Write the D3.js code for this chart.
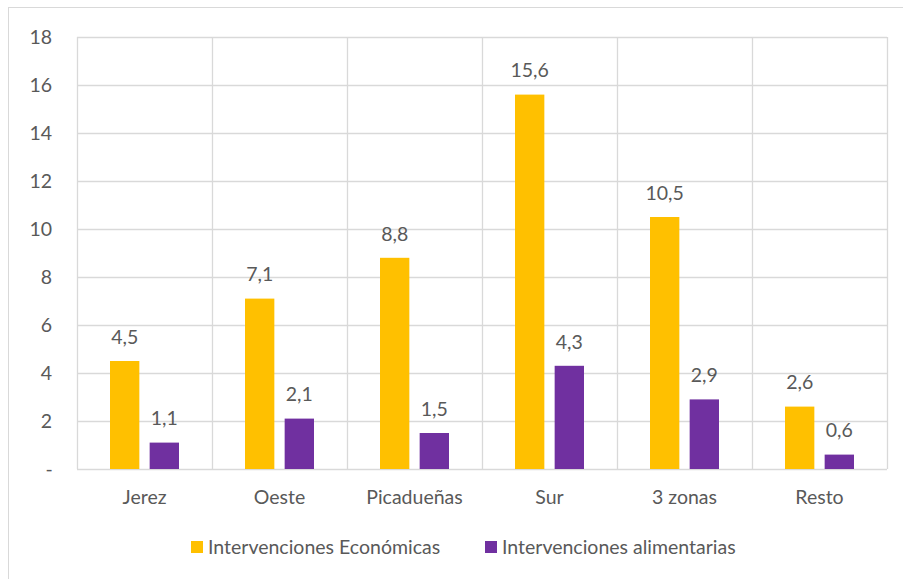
<!DOCTYPE html>
<html>
<head>
<meta charset="utf-8">
<script src="https://cdn.jsdelivr.net/npm/d3@7"></script>
<style>
  body { margin: 0; background: #fff; }
  text { font-family: Lato, "Open Sans", sans-serif; fill: #595959; }
</style>
</head>
<body>
<script>
'use strict';

// chart data
const zonas = ['Jerez', 'Oeste', 'Picadueñas', 'Sur', '3 zonas', 'Resto'];
const economicas = [4.5, 7.1, 8.8, 15.6, 10.5, 2.6];
const alimentarias = [1.1, 2.1, 1.5, 4.3, 2.9, 0.6];
const seriesNames = ['Intervenciones Económicas', 'Intervenciones alimentarias'];
const yTicks = [0, 2, 4, 6, 8, 10, 12, 14, 16, 18];

const colors = ['#FFC000', '#7030A0'];
const fontSize = '19.5px';
const W = 903, H = 579;
const margin = {top: 37, right: 16, bottom: 110, left: 77},
    width = W - margin.left - margin.right,
    height = H - margin.top - margin.bottom;

const fmt = v => v === 0 ? '-' : String(v).replace('.', ',');

let svg = d3.select('body').append('svg')
    .attr('width', W)
    .attr('height', H);

// outer chart border
svg.append('rect')
    .attr('x', 8.5).attr('y', 7.5)
    .attr('width', W).attr('height', H)
    .attr('fill', 'none')
    .attr('stroke', '#d9d9d9');

let g = svg.append('g')
    .attr('transform', 'translate(' + margin.left + ',' + margin.top + ')');

let x0 = d3.scaleBand().domain(zonas).range([0, width]).paddingInner(0).paddingOuter(0);
let x1 = d3.scaleBand().domain([0, 1]).range([x0.bandwidth() / 2 - 34.5, x0.bandwidth() / 2 + 34.5]).paddingInner(0.26);
let y = d3.scaleLinear().domain([0, 18]).range([height, 0]);

// horizontal gridlines
g.selectAll('.hgrid')
    .data(yTicks).enter()
    .append('line')
    .attr('x1', 0).attr('x2', width)
    .attr('y1', d => Math.round(y(d)) + 0.5)
    .attr('y2', d => Math.round(y(d)) + 0.5)
    .attr('stroke', '#d9d9d9').attr('stroke-width', 1.3);

// vertical gridlines at category boundaries
const bounds = zonas.map(z => x0(z)).concat([width]);
g.selectAll('.vgrid')
    .data(bounds).enter()
    .append('line')
    .attr('x1', d => Math.round(d) + 0.5).attr('x2', d => Math.round(d) + 0.5)
    .attr('y1', 0).attr('y2', height)
    .attr('stroke', '#d9d9d9').attr('stroke-width', 1.3);

// y tick labels
g.selectAll('.ylab')
    .data(yTicks).enter()
    .append('text')
    .attr('x', d => d === 0 ? -28 : -25)
    .attr('y', d => y(d))
    .attr('dy', '0.35em')
    .attr('text-anchor', d => d === 0 ? 'middle' : 'end')
    .style('font-size', fontSize)
    .text(fmt);

// bars
const series = [economicas, alimentarias];
series.forEach(function (vals, s) {
    let grp = g.append('g');
    grp.selectAll('rect')
        .data(vals).enter()
        .append('rect')
        .attr('x', (d, i) => x0(zonas[i]) + x1(s))
        .attr('y', d => y(d))
        .attr('width', x1.bandwidth())
        .attr('height', d => height - y(d))
        .attr('fill', colors[s]);
    grp.selectAll('text')
        .data(vals).enter()
        .append('text')
        .attr('x', (d, i) => x0(zonas[i]) + x1(s) + x1.bandwidth() / 2)
        .attr('y', d => y(d) - 24)
        .attr('dy', '0.35em')
        .attr('text-anchor', 'middle')
        .style('font-size', fontSize)
        .text(fmt);
});

// category labels
g.selectAll('.xlab')
    .data(zonas).enter()
    .append('text')
    .attr('x', d => x0(d) + x0.bandwidth() / 2)
    .attr('y', height + 28)
    .attr('dy', '0.35em')
    .attr('text-anchor', 'middle')
    .style('font-size', fontSize)
    .text(d => d);

// legend
const legendX = [191, 485];
let legend = svg.append('g');
seriesNames.forEach(function (name, i) {
    legend.append('rect')
        .attr('x', legendX[i]).attr('y', 541)
        .attr('width', 12).attr('height', 12)
        .attr('fill', colors[i]);
    legend.append('text')
        .attr('x', legendX[i] + 17).attr('y', 547)
        .attr('dy', '0.35em')
        .style('font-size', fontSize)
        .text(name);
});
</script>
</body>
</html>
